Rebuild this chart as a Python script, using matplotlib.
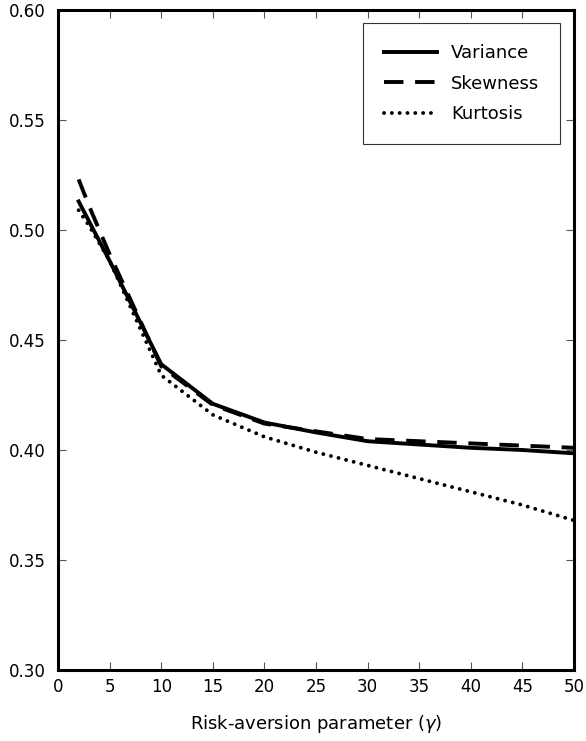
import matplotlib
matplotlib.use('Agg')
import matplotlib.pyplot as plt
import numpy as np

plt.rcParams.update({'font.size': 12, 'font.family': 'DejaVu Sans'})

gamma = [2, 3, 4, 5, 10, 15, 20, 25, 30, 35, 40, 45, 50]
variance = [0.513, 0.504, 0.495, 0.486, 0.439, 0.421, 0.4125, 0.408, 0.404,
            0.4025, 0.401, 0.400, 0.3985]
skewness = [0.523, 0.511, 0.500, 0.489, 0.438, 0.4205, 0.412, 0.4085, 0.405,
            0.404, 0.403, 0.402, 0.401]
kurtosis = [0.509, 0.502, 0.494, 0.486, 0.434, 0.416, 0.406, 0.399, 0.393,
            0.387, 0.381, 0.375, 0.368]

fig = plt.figure(figsize=(5.86, 7.41), dpi=100)
ax = fig.add_axes([0.099, 0.0958, 0.8805, 0.8907])

ax.plot(gamma, variance, color='black', lw=2.8, label='Variance')
ax.plot(gamma, skewness, color='black', lw=2.8, dashes=(5, 3), label='Skewness')
ax.plot(gamma, kurtosis, color='black', lw=2.8, dashes=(0.01, 2.0),
        dash_capstyle='round', label='Kurtosis')

ax.set_xlim(0, 50)
ax.set_ylim(0.30, 0.60)
ax.set_xticks(np.arange(0, 51, 5))
ax.set_yticks(np.arange(0.30, 0.601, 0.05))
ax.set_yticklabels(['%.2f' % v for v in np.arange(0.30, 0.601, 0.05)])
ax.tick_params(direction='in', length=6, width=0.8, color='#555555',
               top=True, right=True, labelsize=12)
ax.tick_params(axis='y', pad=9)
ax.tick_params(axis='x', pad=6)
for s in ax.spines.values():
    s.set_linewidth(2.2)

ax.set_xlabel('Risk-aversion parameter ($\\gamma$)', fontsize=13, labelpad=12)

leg = ax.legend(loc='upper right', bbox_to_anchor=(0.973, 0.980),
                fancybox=False, edgecolor='#333333', framealpha=1,
                handlelength=2.9, fontsize=13, borderpad=1.15,
                labelspacing=0.7, handletextpad=0.8, borderaxespad=0)
leg.get_frame().set_linewidth(0.8)

fig.savefig('out.png', dpi=100)
